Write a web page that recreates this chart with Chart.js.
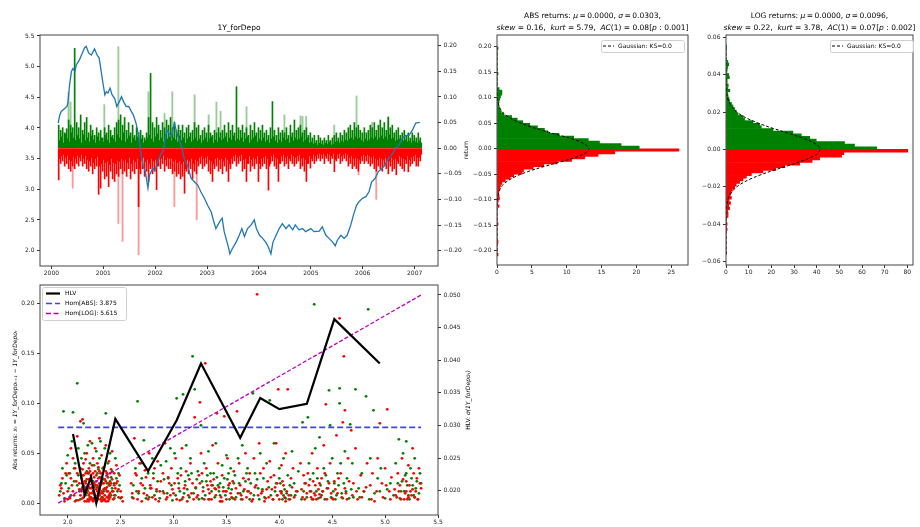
<!DOCTYPE html>
<html>
<head>
<meta charset="utf-8">
<script src="https://cdn.jsdelivr.net/npm/chart.js@4.4.1/dist/chart.umd.min.js"></script>
<style>
  html, body { margin: 0; padding: 0; background: #fff; }
  #fig { position: relative; width: 920px; height: 527px; overflow: hidden; }
  #fig canvas { position: absolute; left: 0; top: 0; }
</style>
</head>
<body>
<div id="fig"></div>
<script>
// ---- level series (1Y_forDepo) ----
const lvlYears = [2000.13,2000.16,2000.19,2000.26,2000.30,2000.32,2000.35,2000.385,2000.415,2000.45,2000.48,2000.54,2000.58,2000.64,2000.67,2000.72,2000.77,2000.80,2000.83,2000.88,2000.92,2000.96,2000.99,2001.03,2001.06,2001.09,2001.13,2001.17,2001.22,2001.26,2001.31,2001.35,2001.39,2001.44,2001.49,2001.54,2001.58,2001.63,2001.68,2001.73,2001.77,2001.81,2001.86,2001.89,2001.95,2002.00,2002.05,2002.10,2002.16,2002.22,2002.31,2002.37,2002.43,2002.50,2002.56,2002.63,2002.69,2002.76,2002.82,2002.88,2002.95,2003.01,2003.08,2003.12,2003.17,2003.24,2003.29,2003.33,2003.40,2003.44,2003.49,2003.56,2003.62,2003.67,2003.72,2003.78,2003.85,2003.91,2003.95,2004.01,2004.07,2004.13,2004.18,2004.23,2004.27,2004.33,2004.39,2004.45,2004.52,2004.58,2004.65,2004.70,2004.77,2004.84,2004.90,2005.00,2005.06,2005.16,2005.22,2005.29,2005.35,2005.42,2005.47,2005.51,2005.58,2005.64,2005.70,2005.77,2005.82,2005.88,2005.93,2005.99,2006.06,2006.12,2006.17,2006.24,2006.30,2006.37,2006.43,2006.49,2006.56,2006.63,2006.70,2006.76,2006.83,2006.89,2006.96,2007.02,2007.10];
const lvlValues = [4.08,4.21,4.27,4.32,4.35,4.43,4.70,4.92,4.97,4.92,5.03,5.11,5.19,5.31,5.33,5.22,5.19,5.24,5.29,5.19,5.14,4.92,4.75,4.54,4.59,4.57,4.65,4.54,4.48,4.35,4.43,4.51,4.43,4.35,4.35,4.27,4.21,4.08,3.88,3.56,3.37,3.29,3.02,3.23,3.34,3.31,3.45,3.56,3.64,3.97,3.86,4.08,3.88,3.72,3.50,3.37,3.18,3.12,3.07,2.96,2.85,2.74,2.63,2.50,2.36,2.47,2.53,2.31,2.09,1.95,2.04,2.14,2.25,2.36,2.23,2.36,2.42,2.50,2.36,2.25,2.20,2.14,2.06,1.95,2.14,2.25,2.36,2.44,2.36,2.42,2.34,2.42,2.34,2.36,2.31,2.36,2.31,2.32,2.39,2.25,2.20,2.14,2.08,2.17,2.25,2.20,2.25,2.42,2.58,2.74,2.80,2.85,2.88,2.96,3.12,3.18,3.29,3.34,3.40,3.50,3.56,3.67,3.72,3.83,3.88,3.88,3.97,4.08,4.09];

// ---- returns, sampled every two weeks from 2000.14 (peak up / peak down per column) ----
const retStart = 2000.14;
const retStep = 0.0385;
const retUp = [.045,.035,.040,.030,.038,.055,.045,.040,.195,.050,
  .040,.065,.035,.050,.060,.030,.045,.035,.025,.040,
  .030,.035,.020,.040,.030,.045,.035,.025,.040,.050,
  .055,.065,.045,.060,.035,.050,.030,.045,.025,.040,
  .030,.035,.025,.020,.030,.060,.146,.050,.040,.060,
  .045,.035,.050,.040,.055,.045,.060,.040,.050,.035,
  .045,.035,.045,.030,.040,.045,.030,.035,.050,.040,
  .045,.025,.035,.040,.030,.045,.030,.025,.035,.030,
  .040,.030,.035,.045,.030,.050,.035,.045,.030,.120,
  .040,.035,.045,.030,.040,.025,.045,.035,.050,.030,
  .040,.035,.045,.030,.035,.025,.040,.091,.035,.025,
  .040,.030,.035,.030,.040,.025,.045,.030,.055,.035,
  .040,.045,.030,.035,.040,.025,.030,.020,.025,.015,
  .025,.020,.015,.020,.015,.025,.015,.020,.025,.030,
  .020,.030,.025,.035,.030,.040,.045,.035,.050,.040,
  .045,.035,.030,.040,.030,.035,.045,.040,.050,.035,
  .045,.055,.040,.050,.035,.060,.040,.045,.030,.035,
  .040,.025,.030,.035,.025,.030,.020,.030,.025,.020,
  .030,.020];
const retDown = [.062,.030,.025,.035,.030,.040,.045,.035,.040,.030,
  .035,.025,.035,.030,.040,.045,.035,.050,.040,.035,
  .090,.078,.045,.060,.055,.075,.045,.060,.065,.050,
  .055,.040,.050,.045,.055,.040,.060,.045,.050,.040,
  .114,.050,.040,.055,.045,.065,.040,.050,.045,.081,
  .035,.040,.030,.045,.035,.040,.040,.050,.045,.055,
  .050,.060,.055,.088,.045,.050,.040,.060,.045,.050,
  .035,.030,.040,.035,.030,.045,.050,.065,.040,.035,
  .045,.040,.050,.035,.045,.065,.040,.030,.025,.035,
  .030,.025,.045,.040,.065,.030,.045,.035,.040,.030,
  .065,.040,.035,.030,.040,.082,.030,.025,.035,.040,
  .065,.030,.025,.035,.030,.040,.025,.030,.035,.030,
  .025,.040,.035,.045,.065,.030,.039,.025,.030,.025,
  .020,.025,.020,.030,.020,.025,.030,.020,.046,.025,
  .020,.030,.025,.020,.025,.035,.030,.040,.035,.040,
  .045,.030,.025,.030,.025,.030,.035,.030,.040,.045,
  .035,.040,.045,.035,.040,.050,.035,.045,.040,.052,
  .030,.035,.040,.045,.030,.046,.035,.030,.025,.035,
  .035,.025];
// the weeks in between (smaller moves)
const retUpMid = [.015,.022,.010,.028,.018,.012,.030,.020,.015,.025,
  .018,.010,.026,.015,.020,.012,.024,.016,.010,.022,
  .014,.020,.012,.025,.016,.010,.022,.018,.012,.026,
  .020,.015,.030,.012,.018,.024,.010,.020,.015,.022,
  .012,.018,.010,.015,.020,.025,.018,.012,.022,.028,
  .015,.020,.012,.026,.018,.022,.014,.020,.016,.012,
  .024,.015,.020,.010,.018,.022,.012,.016,.020,.014,
  .018,.010,.015,.020,.012,.018,.022,.010,.016,.012,
  .020,.015,.018,.022,.012,.020,.016,.024,.014,.018,
  .015,.020,.012,.018,.022,.010,.016,.020,.024,.012,
  .018,.014,.020,.012,.016,.010,.018,.022,.014,.010,
  .016,.012,.020,.015,.018,.010,.022,.014,.020,.016,
  .018,.022,.012,.015,.020,.010,.012,.008,.010,.006,
  .010,.008,.006,.010,.008,.012,.006,.008,.012,.014,
  .010,.014,.012,.016,.014,.018,.020,.016,.022,.018,
  .020,.015,.012,.018,.014,.016,.020,.018,.022,.016,
  .020,.024,.018,.022,.016,.026,.018,.020,.014,.016,
  .018,.012,.014,.016,.012,.014,.010,.014,.012,.010,
  .014,.010];
const retDownMid = [.020,.015,.012,.018,.014,.022,.025,.016,.020,.014,
  .018,.012,.020,.015,.022,.025,.018,.028,.020,.016,
  .035,.030,.022,.028,.025,.032,.020,.028,.030,.024,
  .026,.020,.024,.022,.028,.018,.030,.022,.026,.020,
  .040,.024,.018,.026,.022,.030,.020,.025,.022,.035,
  .016,.020,.014,.022,.018,.020,.020,.025,.022,.028,
  .025,.030,.026,.040,.022,.025,.020,.030,.022,.025,
  .018,.015,.020,.018,.015,.022,.025,.030,.020,.018,
  .022,.020,.025,.018,.022,.030,.020,.015,.012,.018,
  .015,.012,.022,.020,.030,.015,.022,.018,.020,.015,
  .030,.020,.018,.015,.020,.035,.015,.012,.018,.020,
  .030,.015,.012,.018,.015,.020,.012,.015,.018,.015,
  .012,.020,.018,.022,.030,.015,.020,.012,.015,.012,
  .010,.012,.010,.015,.010,.012,.015,.010,.022,.012,
  .010,.015,.012,.010,.012,.018,.015,.020,.018,.020,
  .022,.015,.012,.015,.012,.015,.018,.015,.020,.022,
  .018,.020,.022,.018,.020,.025,.018,.022,.020,.025,
  .015,.018,.020,.022,.015,.022,.018,.015,.012,.018,
  .018,.012];
// faint (transparent) spikes
const spikeUpDates = [2000.33,2000.37,2001.02,2001.29,2001.87,2002.18,2002.33,2002.76,2003.03,2003.18,2003.26,2003.76,2004.49,2004.80,2004.84,2004.91,2005.45,2005.88,2006.18,2006.49];
const spikeUpVals = [.110,.090,.085,.198,.110,.068,.110,.104,.065,.090,.072,.081,.065,.063,.062,.062,.045,.102,.050,.062];
const spikeDownDates = [2000.41,2001.29,2001.37,2001.68,2002.37,2002.80,2005.92,2006.26];
const spikeDownVals = [.078,.147,.182,.208,.114,.140,.052,.100];

const yearTicks = [2000,2001,2002,2003,2004,2005,2006,2007];
const levelTicks = [2.0,2.5,3.0,3.5,4.0,4.5,5.0,5.5];
const retTicks = [-0.20,-0.15,-0.10,-0.05,0,0.05,0.10,0.15,0.20];

// ---- ABS histogram (density), bins of 0.005 away from zero ----
const absBin = 0.005;
const absPos = [20.4,17.8,14.7,13.1,11.0,8.9,7.3,6.8,5.8,4.7,3.7,2.9,2.1,1.0,0.6,0.4,0.3,0.25,0.3,0.4,0.5,0.7,0.7,0.3,0,0,0,0,0,0.15,0,0,0,0,0,0,0,0,0,0.15];
const absNeg = [26.1,16.9,14.5,12.6,10.7,8.6,6.7,5.2,3.8,3.6,2.4,1.9,1.2,0.7,0.5,0.4,0.3,0.25,0.3,0.35,0.2,0,0.3,0,0,0,0,0,0,0.15,0,0,0,0,0,0,0.15,0,0,0,0,0.15];
const absGaussY = [-0.21,-0.12,-0.10,-0.09,-0.08,-0.07,-0.06,-0.05,-0.04,-0.03,-0.02,-0.01,0,0.01,0.02,0.03,0.04,0.05,0.06,0.07,0.08,0.09,0.10,0.12,0.20];
const absGaussX = [0,0.005,0.06,0.16,0.4,0.9,1.9,3.4,5.5,8.0,10.6,12.5,13.2,12.5,10.6,8.0,5.5,3.4,1.9,0.9,0.4,0.16,0.06,0.005,0];
const absXTicks = [0,5,10,15,20,25];

// ---- LOG histogram (density), bins of 0.0014 ----
const logBin = 0.0014;
const logPos = [66.5,56.7,52.3,39.8,36.9,33.2,29.5,20.7,15.6,14.8,11.9,8.2,7.5,5.3,4.5,3.8,3.1,2.4,1.6,1.3,0.9,0.7,1.7,0.8,1.0,0.5,0.5,1.5,1.2,0.4,0.5,0.8,1.2,0.8,0,0,0,0,0,0.3];
const logNeg = [80.2,52.0,51.0,41.3,38.0,32.5,26.0,22.0,16.3,11.2,9.0,7.5,6.0,4.5,3.8,2.8,2.2,1.9,2.4,1.4,2.0,1.2,1.6,0.8,0.9,0.9,0.3,0,0.5,0,0.5,0,0,0,0,0,0,0,0,0.3];
const logGaussY = [-0.056,-0.04,-0.035,-0.03,-0.0275,-0.025,-0.0225,-0.02,-0.0175,-0.015,-0.0125,-0.01,-0.0075,-0.005,-0.0025,0,0.0025,0.005,0.0075,0.01,0.0125,0.015,0.0175,0.02,0.0225,0.025,0.0275,0.03,0.035,0.04,0.055];
const logGaussX = [0,0.01,0.05,0.3,0.7,1.4,2.7,4.7,7.9,12.3,17.7,24.0,30.4,36.1,40.1,41.5,40.1,36.1,30.4,24.0,17.7,12.3,7.9,4.7,2.7,1.4,0.7,0.3,0.05,0.01,0];
const logXTicks = [0,10,20,30,40,50,60,70,80];
const logYTicks = [-0.06,-0.04,-0.02,0,0.02,0.04,0.06];

// ---- HLV panel ----
const hlvLevel = [2.05,2.16,2.22,2.27,2.45,2.76,3.03,3.26,3.63,3.82,4.00,4.26,4.52,4.95];
const hlvValue = [0.0287,0.0194,0.0221,0.0181,0.0310,0.0230,0.0308,0.0395,0.0281,0.0342,0.0325,0.0333,0.0463,0.0395];
const homAbsLevel = [1.91,5.34];
const homAbsValue = [0.0297,0.0297];
const homLogLevel = [1.91,5.34];
const homLogValue = [0.0181,0.0500];
// [level, |return|] for up moves (green) and down moves (red)
const upPts = [[1.93,.012],[1.95,.035],[1.96,.092],[1.97,.005],[1.98,.02],[2.0,.048],[2.01,.015],[2.02,.03],[2.03,.008],[2.04,.062],[2.05,.091],[2.06,.022],[2.07,.04],[2.08,.003],[2.09,.12],[2.1,.028],[2.1,.055],[2.11,.012],
  [2.12,.035],[2.13,.045],[2.14,.02],[2.15,.08],[2.16,.05],[2.17,.008],[2.18,.032],[2.19,.058],[2.2,.015],[2.21,.04],[2.22,.025],[2.23,.06],[2.24,.005],[2.25,.038],[2.26,.018],[2.27,.052],[2.28,.03],[2.29,.01],[2.3,.045],[2.31,.062],[2.32,.022],[2.33,.035],[2.34,.012],[2.35,.055],[2.36,.09],[2.37,.028],[2.38,.04],[2.39,.018],[2.4,.05],[2.41,.008],[2.42,.032],[2.44,.02],[2.45,.045],[2.47,.012],[2.48,.03],[2.5,.005],
  [2.62,.018],[2.64,.035],[2.66,.102],[2.67,.01],[2.7,.025],[2.72,.063],[2.74,.005],[2.76,.03],[2.78,.015],[2.8,.045],[2.82,.008],[2.85,.022],[2.88,.038],[2.9,.012],[2.93,.042],[2.95,.025],[2.97,.055],[2.99,.003],
  [3.01,.05],[3.03,.105],[3.05,.02],[3.07,.035],[3.09,.109],[3.1,.01],[3.12,.058],[3.14,.028],[3.16,.045],[3.18,.147],[3.2,.114],[3.21,.015],[3.23,.032],[3.26,.078],[3.27,.005],[3.29,.04],[3.31,.022],[3.33,.052],[3.36,.012],[3.38,.03],[3.4,.06],[3.42,.018],[3.44,.008],[3.46,.038],[3.48,.025],[3.5,.048],[3.52,.015],[3.54,.035],[3.56,.005],[3.58,.028],
  [3.61,.045],[3.63,.01],[3.65,.058],[3.68,.022],[3.7,.035],[3.72,.004],[3.75,.11],[3.77,.03],[3.8,.015],[3.82,.05],[3.85,.025],[3.88,.04],[3.91,.103],[3.92,.008],[3.95,.06],[3.97,.02],[4.0,.035],[4.02,.012],[4.04,.045],[4.06,.005],[4.08,.028],[4.1,.018],[4.12,.052],[4.15,.008],[4.18,.032],
  [4.22,.081],[4.24,.02],[4.27,.086],[4.28,.04],[4.3,.012],[4.33,.199],[4.34,.055],[4.36,.025],[4.38,.066],[4.4,.008],[4.42,.035],[4.45,.015],[4.47,.113],[4.48,.078],[4.5,.045],[4.52,.02],[4.55,.03],[4.57,.115],[4.57,.1],[4.59,.01],[4.62,.052],[4.64,.025],[4.67,.079],[4.69,.04],[4.72,.114],
  [4.75,.015],[4.78,.03],[4.82,.107],[4.84,.194],[4.86,.045],[4.89,.093],[4.9,.01],[4.93,.025],[4.96,.035],[5.0,.005],[5.05,.02],[5.1,.04],[5.13,.064],[5.15,.012],[5.17,.05],[5.19,.028],[5.2,.062],[5.22,.008],[5.24,.035],[5.26,.018],[5.28,.045],[5.3,.022],[5.32,.01],[5.33,.03],
  [1.94,.02],[1.99,.028],[2.02,.006],[2.06,.035],[2.09,.018],[2.12,.004],[2.14,.028],[2.16,.016],[2.18,.01],[2.2,.03],[2.22,.004],[2.24,.022],[2.26,.008],[2.28,.016],[2.3,.026],[2.32,.006],[2.34,.024],[2.36,.014],[2.38,.006],[2.4,.022],[2.42,.015],[2.44,.005],[2.46,.025],[2.49,.018],
  [2.61,.006],[2.65,.012],[2.69,.04],[2.73,.015],[2.77,.006],[2.81,.03],[2.84,.012],[2.87,.005],[2.91,.024],[2.94,.01],[2.98,.018],
  [3.02,.008],[3.04,.03],[3.06,.012],[3.08,.004],[3.11,.022],[3.13,.014],[3.15,.006],[3.17,.03],[3.19,.01],[3.22,.024],[3.24,.004],[3.28,.016],[3.3,.008],[3.32,.028],[3.34,.004],[3.37,.018],[3.39,.006],[3.41,.026],[3.43,.012],[3.45,.002],[3.47,.016],[3.49,.008],[3.51,.024],[3.53,.004],[3.55,.014],[3.57,.02],[3.59,.006],
  [3.62,.02],[3.64,.004],[3.66,.012],[3.69,.03],[3.71,.012],[3.73,.02],[3.76,.008],[3.79,.024],[3.81,.004],[3.84,.014],[3.86,.006],[3.9,.016],[3.94,.004],[3.96,.012],[3.98,.008],[4.01,.02],[4.03,.004],[4.05,.014],[4.07,.01],[4.09,.004],[4.11,.008],[4.14,.02],[4.17,.012],
  [4.21,.004],[4.23,.012],[4.26,.006],[4.29,.024],[4.31,.004],[4.32,.03],[4.35,.012],[4.37,.005],[4.39,.018],[4.41,.012],[4.43,.004],[4.46,.022],[4.49,.006],[4.51,.012],[4.53,.004],[4.56,.018],[4.58,.04],[4.6,.005],[4.61,.02],[4.63,.012],[4.66,.005],[4.68,.014],[4.7,.006],
  [4.76,.006],[4.8,.012],[4.85,.004],[4.95,.012],[5.02,.014],[5.08,.008],[5.12,.02],[5.14,.005],[5.16,.022],[5.18,.012],[5.21,.018],[5.23,.004],[5.25,.025],[5.27,.008],[5.29,.015],[5.31,.004],[5.34,.02],
  [2.13,.014],[2.17,.022],[2.21,.006],[2.25,.016],[2.29,.034],[2.33,.004],[2.37,.02],[2.41,.026],[2.45,.008],[3.27,.022],[3.35,.03],[3.44,.02],[3.52,.03],[4.0,.025],[4.04,.008],[4.44,.028],[4.54,.008],[5.2,.03],[5.28,.006]];
const downPts = [[1.92,.008],[1.94,.015],[1.95,.025],[1.97,.002],[1.99,.04],[2.0,.012],[2.01,.03],[2.02,.005],[2.03,.055],[2.04,.018],[2.05,.045],[2.06,.008],[2.07,.035],[2.08,.022],[2.09,.067],[2.1,.003],[2.11,.014],[2.12,.082],[2.14,.084],
  [2.13,.025],[2.14,.005],[2.15,.04],[2.16,.012],[2.17,.03],[2.18,.002],[2.18,.05],[2.19,.018],[2.2,.035],[2.2,.008],[2.21,.062],[2.22,.015],[2.22,.028],[2.23,.004],[2.24,.045],[2.24,.02],[2.25,.01],[2.26,.032],[2.26,.055],[2.27,.002],[2.28,.018],[2.28,.04],[2.29,.025],[2.3,.008],[2.3,.065],[2.31,.03],[2.32,.012],[2.32,.048],[2.33,.02],[2.34,.003],[2.34,.036],[2.35,.015],[2.36,.058],[2.37,.006],[2.38,.026],[2.39,.042],[2.4,.01],[2.41,.02],[2.42,.052],[2.43,.004],[2.44,.03],[2.45,.015],[2.46,.038],[2.47,.022],[2.48,.006],[2.49,.028],[2.5,.012],[2.52,.002],
  [2.15,.006],[2.16,.022],[2.17,.014],[2.19,.004],[2.2,.024],[2.21,.01],[2.23,.016],[2.24,.002],[2.25,.026],[2.26,.008],[2.27,.014],[2.29,.004],[2.3,.02],[2.31,.01],[2.33,.006],[2.35,.024],[2.36,.002],[2.37,.016],[2.39,.008],[2.4,.03],
  [2.6,.02],[2.62,.005],[2.63,.065],[2.65,.028],[2.67,.012],[2.68,.04],[2.7,.002],[2.71,.018],[2.73,.033],[2.75,.008],[2.77,.05],[2.79,.015],[2.81,.025],[2.83,.004],[2.85,.042],[2.87,.012],[2.9,.03],[2.92,.06],[2.94,.006],[2.96,.02],[2.98,.035],
  [3.0,.01],[3.02,.045],[3.04,.025],[3.06,.003],[3.08,.055],[3.1,.015],[3.12,.032],[3.14,.008],[3.16,.04],[3.18,.02],[3.2,.086],[3.22,.006],[3.24,.028],[3.25,.101],[3.26,.05],[3.28,.012],[3.3,.14],[3.31,.035],[3.33,.004],[3.35,.022],[3.37,.058],[3.39,.015],[3.41,.09],[3.42,.04],[3.44,.002],[3.46,.028],[3.48,.087],[3.49,.012],[3.51,.045],[3.53,.02],[3.55,.006],[3.57,.032],[3.59,.015],
  [3.6,.092],[3.62,.04],[3.64,.008],[3.66,.025],[3.68,.05],[3.7,.012],[3.72,.03],[3.74,.002],[3.76,.045],[3.78,.018],[3.79,.209],[3.81,.06],[3.83,.01],[3.85,.035],[3.87,.005],[3.89,.022],[3.91,.042],[3.93,.014],[3.95,.028],[3.97,.06],[3.99,.114],[4.0,.004],[4.02,.038],[4.04,.018],[4.06,.05],[4.08,.114],[4.09,.008],[4.11,.025],[4.13,.035],[4.16,.012],
  [4.2,.04],[4.22,.006],[4.25,.02],[4.27,.03],[4.29,.012],[4.31,.05],[4.32,.004],[4.34,.018],[4.36,.035],[4.38,.009],[4.4,.025],[4.42,.058],[4.44,.099],[4.46,.015],[4.48,.04],[4.5,.005],[4.52,.022],[4.54,.068],[4.57,.185],[4.58,.03],[4.6,.081],[4.61,.147],[4.62,.093],[4.63,.01],[4.65,.045],[4.68,.073],[4.7,.02],
  [4.72,.055],[4.74,.004],[4.77,.028],[4.8,.012],[4.83,.04],[4.86,.018],[4.88,.03],[4.9,.002],[4.93,.045],[4.95,.08],[4.97,.02],[5.0,.035],[5.02,.094],[5.04,.012],[5.06,.026],[5.1,.008],[5.12,.03],[5.14,.018],[5.16,.045],[5.18,.004],[5.2,.022],[5.22,.038],[5.24,.012],[5.26,.055],[5.28,.006],[5.3,.025],[5.32,.035],[5.34,.015],
  [1.93,.018],[1.96,.01],[1.98,.03],[2.0,.004],[2.03,.025],[2.05,.012],[2.07,.002],[2.09,.03],[2.11,.02],[2.12,.008],[2.13,.012],[2.14,.034],[2.15,.018],[2.16,.002],[2.17,.044],[2.18,.024],[2.19,.012],[2.2,.002],[2.21,.032],[2.22,.006],[2.23,.038],[2.24,.012],[2.25,.004],[2.26,.018],[2.27,.028],[2.28,.006],[2.29,.036],[2.3,.014],[2.31,.004],[2.32,.026],[2.33,.01],[2.34,.02],[2.35,.004],[2.36,.032],[2.37,.012],[2.38,.002],[2.39,.02],[2.4,.006],[2.41,.034],[2.42,.012],[2.44,.008],[2.46,.02],[2.48,.014],[2.51,.006],
  [2.61,.01],[2.64,.03],[2.66,.004],[2.69,.02],[2.72,.01],[2.74,.026],[2.76,.004],[2.78,.018],[2.8,.006],[2.82,.035],[2.84,.014],[2.86,.002],[2.88,.022],[2.91,.01],[2.93,.004],[2.95,.026],[2.97,.008],[2.99,.014],
  [3.01,.02],[3.03,.004],[3.05,.015],[3.07,.028],[3.09,.006],[3.11,.018],[3.13,.002],[3.15,.024],[3.17,.01],[3.19,.004],[3.21,.016],[3.23,.008],[3.25,.02],[3.27,.03],[3.29,.004],[3.32,.018],[3.34,.01],[3.36,.004],[3.38,.024],[3.4,.008],[3.43,.016],[3.45,.006],[3.47,.012],[3.5,.004],[3.52,.018],[3.54,.01],[3.56,.022],[3.58,.004],
  [3.61,.01],[3.63,.018],[3.65,.004],[3.67,.014],[3.69,.006],[3.71,.024],[3.73,.01],[3.75,.004],[3.77,.016],[3.8,.008],[3.82,.03],[3.84,.012],[3.86,.002],[3.88,.014],[3.9,.006],[3.92,.026],[3.94,.004],[3.96,.016],[3.98,.008],[4.01,.012],[4.03,.022],[4.05,.006],[4.07,.012],[4.1,.004],[4.12,.016],[4.14,.006],
  [4.21,.014],[4.23,.028],[4.24,.004],[4.26,.01],[4.28,.018],[4.3,.006],[4.32,.022],[4.33,.01],[4.35,.004],[4.37,.014],[4.39,.006],[4.41,.012],[4.43,.03],[4.45,.004],[4.47,.02],[4.49,.01],[4.51,.004],[4.53,.014],[4.55,.01],[4.56,.025],[4.59,.006],[4.62,.015],[4.64,.004],[4.66,.022],[4.69,.008],
  [4.73,.012],[4.78,.006],[4.82,.016],[4.87,.004],[4.92,.012],[4.98,.006],[5.01,.018],[5.05,.004],[5.09,.014],[5.11,.006],[5.13,.012],[5.15,.004],[5.17,.024],[5.19,.01],[5.21,.004],[5.23,.018],[5.25,.008],[5.27,.03],[5.29,.012],[5.31,.004],[5.33,.02],
  [2.14,.016],[2.15,.028],[2.16,.008],[2.17,.02],[2.18,.014],[2.19,.03],[2.2,.016],[2.21,.004],[2.22,.022],[2.23,.01],[2.24,.03],[2.25,.02],[2.26,.004],[2.27,.022],[2.28,.012],[2.29,.016],[2.3,.032],[2.31,.018],[2.32,.002],[2.33,.03],[2.34,.014],[2.35,.008],[2.36,.022],[2.37,.03],[2.38,.012],[2.39,.004],[2.4,.018],[2.42,.024],[2.43,.012],[2.44,.018],
  [3.33,.014],[3.36,.018],[3.4,.014],[3.46,.002],[3.5,.012],[3.98,.02],[4.02,.01],[4.06,.002],[4.34,.008],[4.38,.02],[5.2,.012],[5.22,.006],[5.26,.014]];
const hlvXTicks = [2.0,2.5,3.0,3.5,4.0,4.5,5.0,5.5];
const hlvYTicks = [0,0.05,0.10,0.15,0.20];
const hlvY2Ticks = [0.020,0.025,0.030,0.035,0.040,0.045,0.050];

// ---------------------------------------------------------------------
const FONT = "'DejaVu Sans', sans-serif";
const W = 920, H = 527;
const GREEN = '#008000', RED = '#ff0000';
const MAGENTA = '#bf00bf', HOMBLUE = 'rgba(0,0,255,0.75)';

function addCanvas(id) {
  const c = document.createElement('canvas');
  c.id = id;
  c.width = W;
  c.height = H;
  c.style.width = W + 'px';
  c.style.height = H + 'px';
  document.getElementById('fig').appendChild(c);
  return c;
}

const fixed = (d) => (v) => (v < 0 ? '\u2212' : '') + Math.abs(v).toFixed(d);

function axis(pos, min, max, ticks, fmt, size, extra) {
  const horiz = pos === 'bottom' || pos === 'top';
  return Object.assign({
    type: 'linear',
    position: pos,
    min, max,
    offset: false,
    afterBuildTicks: (s) => { s.ticks = ticks.map((v) => ({ value: v })); },
    afterFit: (s) => { if (s.isHorizontal()) s.height = size; else s.width = size; },
    grid: { display: true, offset: false, drawOnChartArea: false, drawTicks: true, tickLength: 3, color: '#000', tickColor: '#000', tickWidth: 0.8 },
    border: { display: false },
    ticks: { callback: fmt, font: { family: FONT, size: 6 }, color: '#222', padding: horiz ? 1 : 2.5, maxRotation: 0, minRotation: 0, autoSkip: false },
  }, extra || {});
}

function pad(box, lw, rw, bh) {
  return { left: box.l - lw, right: W - box.r - rw, top: box.t, bottom: H - box.b - bh };
}

// frame around the plotting area (matplotlib spines)
const framePlugin = {
  id: 'frame',
  afterDatasetsDraw(chart) {
    const a = chart.chartArea;
    const ctx = chart.ctx;
    ctx.save();
    ctx.strokeStyle = '#444';
    ctx.lineWidth = 1;
    ctx.strokeRect(a.left, a.top, a.right - a.left, a.bottom - a.top);
    ctx.restore();
  },
};

// titles and axis labels, with italic runs for the math parts
const textPlugin = {
  id: 'mplText',
  afterDraw(chart, args, opts) {
    const ctx = chart.ctx;
    for (const t of opts.items || []) {
      ctx.save();
      ctx.translate(t.x, t.y);
      if (t.rotate) ctx.rotate(t.rotate);
      ctx.fillStyle = '#000';
      ctx.textBaseline = 'middle';
      ctx.textAlign = 'left';
      const segs = typeof t.text === 'string' ? [[t.text, false]] : t.text;
      const size = t.size || 6;
      const fontOf = (it) => `${it ? 'italic ' : ''}${size}px ${FONT}`;
      let total = 0;
      for (const [s, it] of segs) { ctx.font = fontOf(it); total += ctx.measureText(s).width; }
      let x = -total / 2;
      for (const [s, it] of segs) {
        ctx.font = fontOf(it);
        ctx.fillText(s, x, 0);
        x += ctx.measureText(s).width;
      }
      ctx.restore();
    }
  },
};

// matplotlib-like legend box
const legendPlugin = {
  id: 'mplLegend',
  afterDraw(chart, args, o) {
    if (!o || !o.entries) return;
    const ctx = chart.ctx;
    ctx.save();
    ctx.fillStyle = 'rgba(255,255,255,0.85)';
    ctx.strokeStyle = '#cfcfcf';
    ctx.lineWidth = 1;
    ctx.beginPath();
    ctx.roundRect(o.x + 0.5, o.y + 0.5, o.w, o.h, 2);
    ctx.fill();
    ctx.stroke();
    o.entries.forEach((e, i) => {
      const cy = o.y + o.first + i * o.rowH;
      ctx.strokeStyle = e.color;
      ctx.lineWidth = e.width;
      ctx.setLineDash(e.dash || []);
      ctx.beginPath();
      ctx.moveTo(o.x + o.l0, cy);
      ctx.lineTo(o.x + o.l1, cy);
      ctx.stroke();
      ctx.setLineDash([]);
      ctx.fillStyle = '#000';
      ctx.font = `6px ${FONT}`;
      ctx.textBaseline = 'middle';
      ctx.textAlign = 'left';
      ctx.fillText(e.label, o.x + o.tx, cy);
    });
    ctx.restore();
  },
};

const common = {
  responsive: false,
  animation: false,
  devicePixelRatio: 1,
  events: [],
};
const noLegend = { legend: { display: false }, tooltip: { enabled: false } };

// ---------------- panel 1: level + returns ----------------
const retDates = retUp.map((_, i) => retStart + i * retStep);
const retDatesMid = retDates.map((d) => d + retStep / 2);
const spike = (color, thick) => ({ backgroundColor: color, barThickness: thick, grouped: false, yAxisID: 'y2', xAxisID: 'x' });
const boxA = { l: 40, t: 35, r: 438, b: 266 };
new Chart(addCanvas('cLevel'), {
  type: 'bar',
  data: {
    datasets: [
      { type: 'line', data: lvlYears.map((x, i) => ({ x, y: lvlValues[i] })), yAxisID: 'y', xAxisID: 'x',
        borderColor: '#1f77b4', borderWidth: 1.3, pointRadius: 0, tension: 0 },
      Object.assign({ type: 'bar', data: retUp.map((v, i) => ({ x: retDates[i], y: v })) }, spike(GREEN, 1)),
      Object.assign({ type: 'bar', data: retUpMid.map((v, i) => ({ x: retDatesMid[i], y: v })) }, spike(GREEN, 1)),
      Object.assign({ type: 'bar', data: retDown.map((v, i) => ({ x: retDates[i], y: -v })) }, spike(RED, 1)),
      Object.assign({ type: 'bar', data: retDownMid.map((v, i) => ({ x: retDatesMid[i], y: -v })) }, spike(RED, 1)),
      Object.assign({ type: 'bar', data: spikeUpDates.map((x, i) => ({ x, y: spikeUpVals[i] })) }, spike('rgba(0,128,0,0.4)', 1.2)),
      Object.assign({ type: 'bar', data: spikeDownDates.map((x, i) => ({ x, y: -spikeDownVals[i] })) }, spike('rgba(255,0,0,0.4)', 1.2)),
    ],
  },
  options: Object.assign({}, common, {
    layout: { padding: pad(boxA, 30, 30, 14) },
    plugins: Object.assign({}, noLegend, {
      mplText: { items: [
        { text: '1Y_forDepo', x: 239, y: 28, size: 7.5 },
        { text: 'return', x: 466, y: 150, size: 6, rotate: -Math.PI / 2 },
      ] },
    }),
    scales: {
      x: axis('bottom', 1999.78, 2007.45, yearTicks, (v) => String(Math.round(v)), 14),
      y: axis('left', 1.75, 5.516, levelTicks, fixed(1), 30),
      y2: axis('right', -0.2299, 0.2209, retTicks, fixed(2), 30),
    },
  }),
  plugins: [framePlugin, textPlugin],
});

// ---------------- histogram panels ----------------
function histChart(id, box, pos, neg, bin, gx, gy, xmax, xTicks, ymin, ymax, yTicks, titleItems, legendX) {
  new Chart(addCanvas(id), {
    type: 'bar',
    data: {
      datasets: [
        { type: 'line', data: gx.map((x, i) => ({ x, y: gy[i] })), borderColor: '#000', borderWidth: 1,
          borderDash: [3, 2], pointRadius: 0, tension: 0.3 },
        { type: 'bar', data: pos.map((v, k) => ({ x: v, y: bin * (k + 0.5) })), backgroundColor: GREEN,
          barPercentage: 1, categoryPercentage: 1, grouped: false },
        { type: 'bar', data: neg.map((v, k) => ({ x: v, y: -bin * (k + 0.5) })), backgroundColor: RED,
          barPercentage: 1, categoryPercentage: 1, grouped: false },
      ],
    },
    options: Object.assign({}, common, {
      indexAxis: 'y',
      layout: { padding: pad(box, 30, 0, 14) },
      plugins: Object.assign({}, noLegend, {
        mplText: { items: titleItems },
        mplLegend: { x: legendX, y: 40, w: 83, h: 12, first: 6, rowH: 10, l0: 2, l1: 13, tx: 17,
          entries: [{ label: 'Gaussian: KS=0.0', color: '#000', width: 1, dash: [3, 2] }] },
      }),
      scales: {
        x: axis('bottom', 0, xmax, xTicks, (v) => String(v), 14),
        y: axis('left', ymin, ymax, yTicks, fixed(2), 30),
      },
    }),
    plugins: [framePlugin, textPlugin, legendPlugin],
  });
}

const I = true, R = false;
const EQ = '\u2009=\u2009';
histChart('cAbs', { l: 497, t: 35, r: 688, b: 265 }, absPos, absNeg, absBin, absGaussX, absGaussY,
  27.4, absXTicks, -0.228, 0.223, retTicks, [
    { text: [['ABS returns: ', R], ['\u03bc', I], [EQ + '0.0000, ', R], ['\u03c3', I], [EQ + '0.0303,', R]], x: 592.5, y: 16, size: 7.5 },
    { text: [['skew', I], [' = 0.16,  ', R], ['kurt', I], [' = 5.79,  ', R], ['AC', I], ['(1) = 0.08[', R], ['p', I], [' : 0.001]', R]], x: 592.5, y: 28, size: 7.5 },
  ], 601);

histChart('cLog', { l: 726, t: 35, r: 913, b: 265 }, logPos, logNeg, logBin, logGaussX, logGaussY,
  82.5, logXTicks, -0.0618, 0.0612, logYTicks, [
    { text: [['LOG returns: ', R], ['\u03bc', I], [EQ + '0.0000, ', R], ['\u03c3', I], [EQ + '0.0096,', R]], x: 819.5, y: 16, size: 7.5 },
    { text: [['skew', I], [' = 0.22,  ', R], ['kurt', I], [' = 3.78,  ', R], ['AC', I], ['(1) = 0.07[', R], ['p', I], [' : 0.002]', R]], x: 819.5, y: 28, size: 7.5 },
  ], 830);

// ---------------- panel 4: abs returns vs level, HLV ----------------
const boxD = { l: 40, t: 285, r: 438, b: 515 };
new Chart(addCanvas('cHlv'), {
  type: 'scatter',
  data: {
    datasets: [
      { type: 'line', label: 'HLV', data: hlvLevel.map((x, i) => ({ x, y: hlvValue[i] })), yAxisID: 'y2',
        borderColor: '#000', borderWidth: 2.2, pointRadius: 0, tension: 0 },
      { type: 'line', label: 'Hom[ABS]: 3.875', data: homAbsLevel.map((x, i) => ({ x, y: homAbsValue[i] })), yAxisID: 'y2',
        borderColor: HOMBLUE, borderWidth: 1.6, borderDash: [6, 3], pointRadius: 0 },
      { type: 'line', label: 'Hom[LOG]: 5.615', data: homLogLevel.map((x, i) => ({ x, y: homLogValue[i] })), yAxisID: 'y2',
        borderColor: MAGENTA, borderWidth: 1.3, borderDash: [4, 2], pointRadius: 0 },
      { data: downPts.map((p) => ({ x: p[0], y: p[1] })), yAxisID: 'y', backgroundColor: RED, borderWidth: 0, pointRadius: 1.4 },
      { data: upPts.map((p) => ({ x: p[0], y: p[1] })), yAxisID: 'y', backgroundColor: GREEN, borderWidth: 0, pointRadius: 1.4 },
    ],
  },
  options: Object.assign({}, common, {
    layout: { padding: pad(boxD, 30, 30, 10) },
    plugins: Object.assign({}, noLegend, {
      mplText: { items: [
        { text: [['Abs returns: ', R], ['x\u209c = 1Y_forDepo\u209c\u208a\u2081 \u2212 1Y_forDepo\u209c', I]], x: 15, y: 400, size: 6, rotate: -Math.PI / 2 },
        { text: [['HLV: ', R], ['\u03c3(1Y_forDepo\u209c)', I]], x: 468, y: 400, size: 6, rotate: -Math.PI / 2 },
      ] },
      mplLegend: { x: 42, y: 287, w: 84, h: 33, first: 6.5, rowH: 10, l0: 4, l1: 18, tx: 23,
        entries: [
          { label: 'HLV', color: '#000', width: 2.2 },
          { label: 'Hom[ABS]: 3.875', color: HOMBLUE, width: 1.6, dash: [6, 3] },
          { label: 'Hom[LOG]: 5.615', color: MAGENTA, width: 1.5, dash: [5, 2.5] },
        ] },
    }),
    scales: {
      x: axis('bottom', 1.738, 5.5, hlvXTicks, fixed(1), 10),
      y: axis('left', -0.0117, 0.2183, hlvYTicks, fixed(2), 30),
      y2: axis('right', 0.01627, 0.05153, hlvY2Ticks, fixed(3), 30),
    },
  }),
  plugins: [framePlugin, textPlugin, legendPlugin],
});
</script>
</body>
</html>
